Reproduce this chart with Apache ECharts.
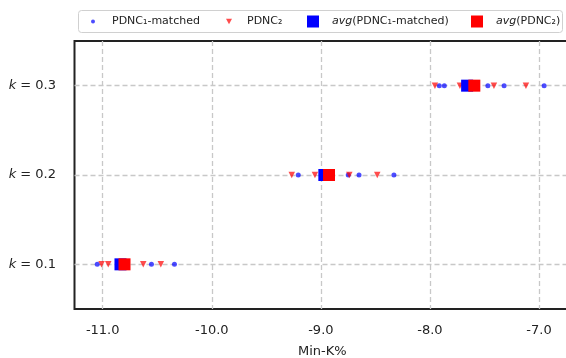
<!DOCTYPE html>
<html><head><meta charset="utf-8">
<script src="https://cdn.jsdelivr.net/npm/echarts@6/dist/echarts.min.js"></script>
<style>html,body{margin:0;padding:0;background:#fff}#c{width:566px;height:358px}</style>
</head><body><div id="c"></div>
<script>
// ---- data ----
const kLevels = [0.1, 0.2, 0.3];
const pdnc1Matched = [
  [-11.050, -10.553, -10.342],
  [-9.207, -8.749, -8.650, -8.330],
  [-7.914, -7.868, -7.469, -7.320, -6.953]
];
const pdnc2 = [
  [-11.011, -10.949, -10.628, -10.467],
  [-9.267, -9.054, -8.739, -8.483],
  [-7.954, -7.725, -7.413, -7.120]
];
const avgPdnc1Matched = [-10.837, -8.968, -7.659];
const avgPdnc2 = [-10.800, -8.925, -7.593];
const seriesNames = ['PDNC₁-matched', 'PDNC₂', 'avg(PDNC₁-matched)', 'avg(PDNC₂)'];
const xAxisName = 'Min-K%';

// ---- build ----
function pairs(groups) {
  const out = [];
  groups.forEach((g, i) => g.forEach(v => out.push([v, kLevels[i]])));
  return out;
}
function avgPairs(arr) { return arr.map((v, i) => [v, kLevels[i]]); }

const FONT = 'DejaVu Sans';
const legendRich = {
  i: { fontStyle: 'italic', fontFamily: FONT, fontSize: 11, color: '#222', lineHeight: 14 },
  n: { fontFamily: FONT, fontSize: 11, color: '#222', lineHeight: 14 }
};
function legendFmt(name) {
  if (name.indexOf('avg') === 0) return '{i|avg}{n|' + name.slice(3) + '}';
  return '{n|' + name + '}';
}
function mkLegend(item, left, size, pad) {
  return {
    data: [item], left: left, top: 21.5 - 7, padding: 0,
    itemWidth: size, itemHeight: size, selectedMode: false,
    formatter: legendFmt,
    textStyle: { fontFamily: FONT, fontSize: 11, lineHeight: 14, padding: [0, 0, 0, pad], rich: legendRich }
  };
}

const chart = echarts.init(document.getElementById('c'), null, { renderer: 'canvas' });
chart.setOption({
  animation: false,
  backgroundColor: '#fff',
  graphic: [{
    type: 'rect', z: 0,
    shape: { x: 78.5, y: 10.5, width: 484, height: 22, r: 3 },
    style: { fill: '#fff', stroke: '#d0d0d0', lineWidth: 1 }
  }],
  legend: [
    mkLegend({ name: seriesNames[0] }, 91, 4, 12),
    mkLegend({ name: seriesNames[1], icon: 'path://M0,0L10,0L5,9Z' }, 226, 6, 10),
    mkLegend({ name: seriesNames[2] }, 307, 12, 8),
    mkLegend({ name: seriesNames[3] }, 471, 12, 8)
  ],
  grid: {
    left: 74.5, top: 41, bottom: 49, right: -4,
    containLabel: false, outerBoundsMode: 'none',
    show: true, borderColor: '#222', borderWidth: 2, backgroundColor: 'transparent'
  },
  xAxis: {
    type: 'value', min: -11.2585, max: -6.7158, minInterval: 1, maxInterval: 1,
    name: xAxisName, nameLocation: 'middle', nameGap: 36,
    nameTextStyle: { fontFamily: FONT, fontSize: 13, color: '#222' },
    axisLine: { show: false }, axisTick: { show: false },
    axisLabel: {
      margin: 15, fontFamily: FONT, fontSize: 13, lineHeight: 13, color: '#222',
      showMinLabel: false, showMaxLabel: false,
      formatter: v => v.toFixed(1)
    },
    splitLine: { show: true, showMinLine: false, showMaxLine: false,
      lineStyle: { color: '#c8c8c8', width: 1.3, type: [5, 3] } }
  },
  yAxis: {
    type: 'value', min: 0.05, max: 0.35, minInterval: 0.1, maxInterval: 0.1,
    axisLine: { show: false }, axisTick: { show: false },
    axisLabel: {
      margin: 18.5, fontFamily: FONT, fontSize: 13, color: '#222',
      showMinLabel: false, showMaxLabel: false,
      formatter: v => '{i|k} = ' + v.toFixed(1),
      rich: {
        i: { fontStyle: 'italic', fontFamily: FONT, fontSize: 13, color: '#222' }
      }
    },
    splitLine: { show: true, showMinLine: false, showMaxLine: false,
      lineStyle: { color: '#c8c8c8', width: 1.3, type: [5, 3] } }
  },
  series: [
    { name: seriesNames[0], type: 'scatter', symbol: 'circle', symbolSize: 5,
      itemStyle: { color: 'rgba(0,0,255,0.7)', opacity: 1 }, data: pairs(pdnc1Matched), z: 2 },
    { name: seriesNames[1], type: 'scatter', symbol: 'triangle', symbolRotate: 180, symbolSize: 6.5,
      itemStyle: { color: 'rgba(255,0,0,0.7)', opacity: 1 }, data: pairs(pdnc2), z: 3 },
    { name: seriesNames[2], type: 'scatter', symbol: 'rect', symbolSize: 12,
      itemStyle: { color: '#0000ff', opacity: 1 }, data: avgPairs(avgPdnc1Matched), z: 4 },
    { name: seriesNames[3], type: 'scatter', symbol: 'rect', symbolSize: 12,
      itemStyle: { color: '#ff0000', opacity: 1 }, data: avgPairs(avgPdnc2), z: 5 }
  ]
});
</script>
</body></html>
